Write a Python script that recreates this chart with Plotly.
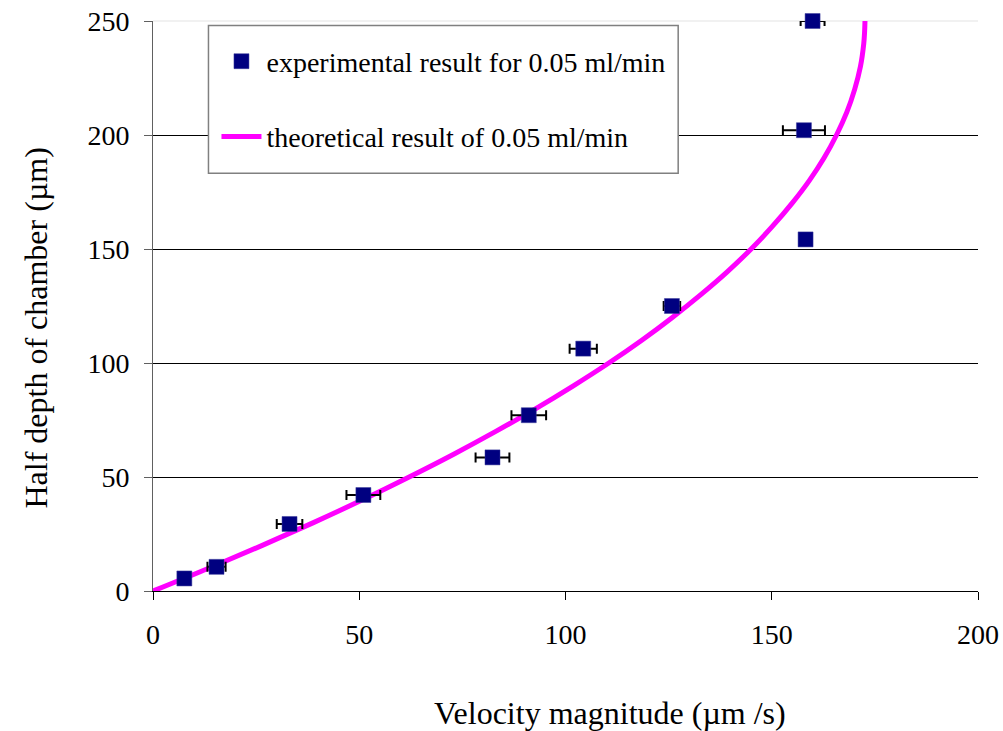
import plotly.graph_objects as go

# Experimental data (velocity µm/s, half depth µm, velocity error)
exp_velocity = [7.6, 15.4, 33.1, 51.0, 82.3, 91.1, 104.3, 125.8, 158.2, 157.8, 159.9]
exp_depth = [5.5, 10.6, 29.4, 42.1, 58.6, 77.1, 106.3, 125.0, 154.2, 202.1, 250.0]
exp_error = [1.0, 2.2, 3.1, 4.1, 4.1, 4.2, 3.3, 2.0, 0.0, 5.1, 2.9]

# Theoretical curve
theo_depth = [0, 10, 20, 30, 40, 50, 60, 70, 80, 90, 100, 110, 120, 130, 140, 150,
              160, 170, 180, 190, 200, 210, 220, 230, 240, 245, 250]
theo_velocity = [0, 13.5, 26.5, 38.9, 50.8, 62.1, 72.9, 83.1, 92.8, 101.9, 110.5, 118.5,
                 125.9, 132.8, 139.2, 145.0, 150.2, 154.9, 159.1, 162.7, 165.7, 168.2,
                 170.1, 171.5, 172.3, 172.5, 172.6]

x_ticks = [0, 50, 100, 150, 200]
y_ticks = [0, 50, 100, 150, 200, 250]
y_grid = [50, 100, 150, 200]

FONT = "Liberation Serif, Times New Roman, serif"

# plot area in pixels
L, R, T, B = 152.5, 978.0, 20.5, 591.5
PW, PH = R - L, B - T


def px(xp):
    return (xp - L) / PW


def py(yp):
    return (B - yp) / PH


fig = go.Figure()
fig.add_trace(go.Scatter(
    x=theo_velocity, y=theo_depth, mode="lines",
    line=dict(color="#FF00FF", width=5, shape="spline"),
    name="theoretical result of 0.05 ml/min", legendrank=2, legendgroup="b",
))
fig.add_trace(go.Scatter(
    x=exp_velocity, y=exp_depth, mode="markers", cliponaxis=False,
    marker=dict(symbol="square", color="#000080", size=15,
                line=dict(color="#3a3a9a", width=0.5)),
    error_x=dict(type="data", array=exp_error, color="black", thickness=2, width=5),
    name="experimental result for 0.05 ml/min", legendrank=1, legendgroup="a",
))
# invisible trace carrying the labelled y axis
fig.add_trace(go.Scatter(
    x=[None], y=[None], yaxis="y2", showlegend=False, hoverinfo="skip",
))

fig.update_layout(
    width=1003, height=731,
    margin=dict(l=L, r=1003 - R, t=T, b=731 - B),
    paper_bgcolor="white", plot_bgcolor="white",
    font=dict(family=FONT, size=28, color="black"),
    showlegend=True,
    legend=dict(
        x=px(216), y=py(36), xanchor="left", yanchor="top",
        bgcolor="rgba(0,0,0,0)", borderwidth=0,
        font=dict(family=FONT, size=28), tracegroupgap=36,
        itemwidth=40,
    ),
    xaxis=dict(
        range=[0, 200], tickvals=x_ticks, ticks="outside", ticklen=8,
        tickcolor="black", showline=True, linecolor="black", linewidth=1,
        showgrid=False, zeroline=False, ticklabelstandoff=10, automargin=False,
        tickfont=dict(family=FONT, size=28),
    ),
    yaxis=dict(
        range=[0, 250], tickvals=y_grid, ticks="", showticklabels=False,
        showline=False, showgrid=True, gridcolor="black", gridwidth=1,
        zeroline=False, automargin=False,
    ),
    yaxis2=dict(
        range=[0, 250], tickvals=y_ticks, ticks="outside", ticklen=8,
        tickcolor="#606060", showline=True, linecolor="#606060", linewidth=1,
        showgrid=False, zeroline=False, overlaying="y", side="left",
        ticklabelstandoff=9, automargin=False, tickfont=dict(family=FONT, size=28),
    ),
    shapes=[
        # faint top border of plot area
        dict(type="line", xref="paper", yref="paper", x0=0, x1=1, y0=1, y1=1,
             line=dict(color="#ececec", width=1.5), layer="below"),
        # legend box
        dict(type="rect", xref="paper", yref="paper",
             x0=px(208), x1=px(678), y0=py(173), y1=py(25),
             fillcolor="white", line=dict(color="#808080", width=1.5),
             layer="above"),
    ],
    annotations=[
        dict(text="Velocity magnitude (\u00b5m /s)", xref="paper", yref="paper",
             x=px(610), y=py(714), xanchor="center",
             yanchor="middle", showarrow=False, font=dict(family=FONT, size=32)),
        dict(text="Half depth of chamber (\u00b5m)", xref="paper", yref="paper",
             x=px(35), y=py(328), xanchor="center",
             yanchor="middle", textangle=-90, showarrow=False,
             font=dict(family=FONT, size=32)),
    ],
)

fig.write_html("out.html")
